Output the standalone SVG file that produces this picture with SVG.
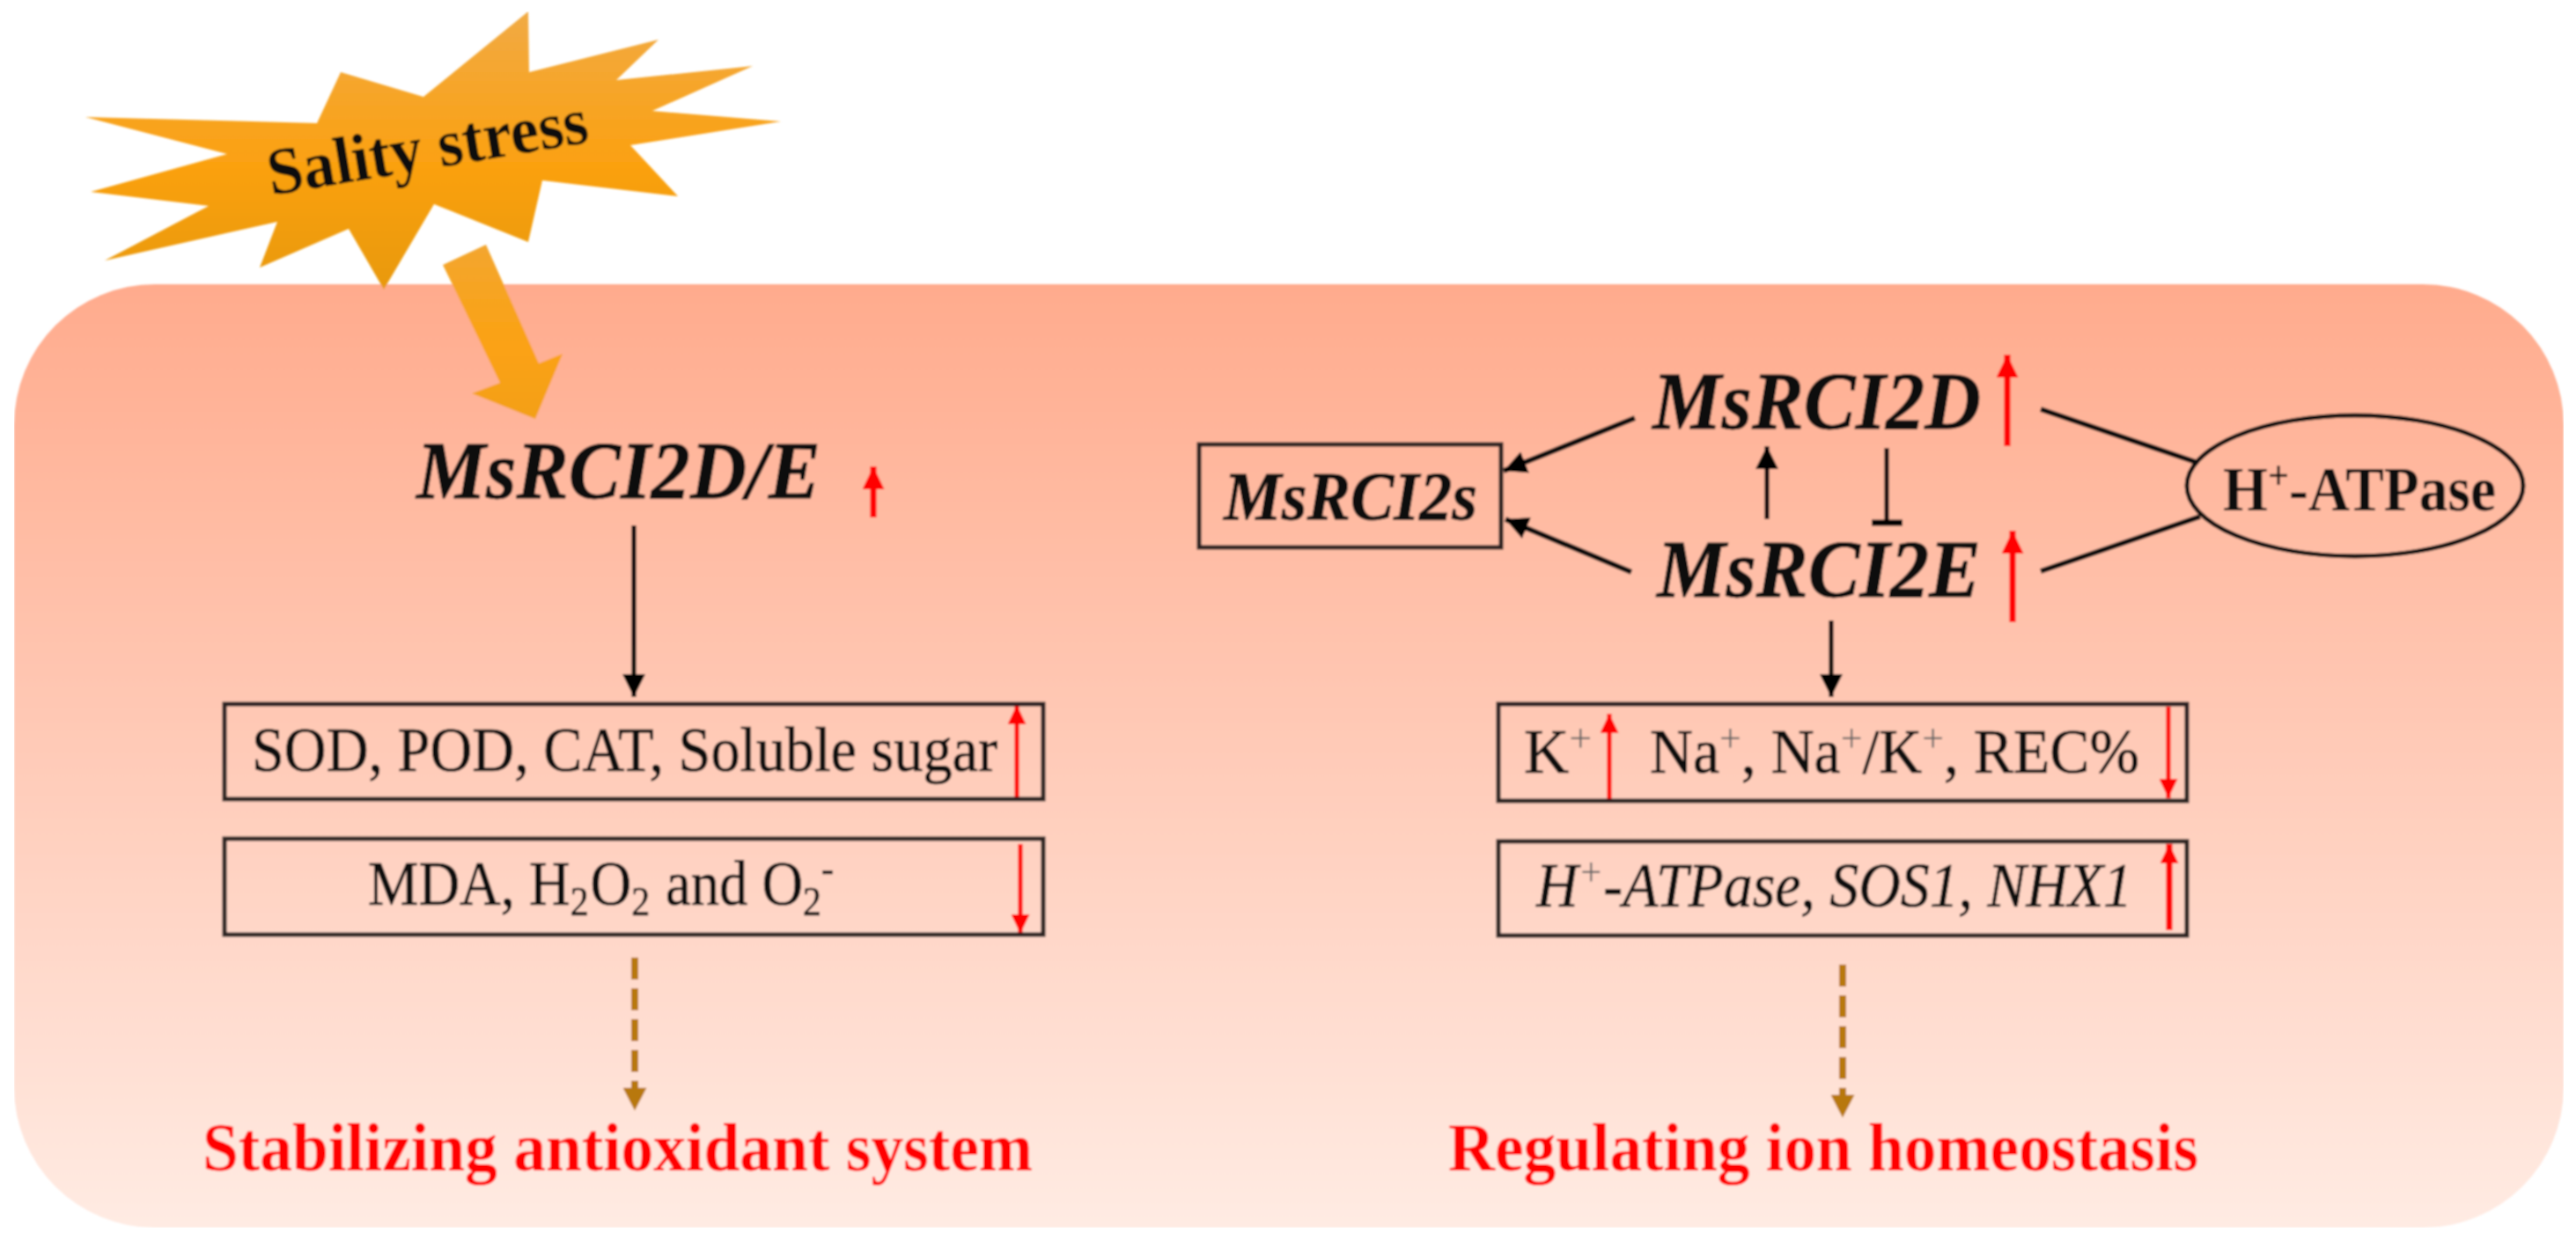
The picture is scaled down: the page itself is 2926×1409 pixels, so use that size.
<svg xmlns="http://www.w3.org/2000/svg" width="2926" height="1409" viewBox="0 0 2926 1409">
<style>
text{font-family:"Liberation Serif","Times New Roman",serif;fill:#0c0c0c}
.g{font-weight:bold;font-style:italic;font-size:94px;stroke:#0c0c0c;stroke-width:.8}
.t{font-size:71px;stroke:#0c0c0c;stroke-width:.7}
.r{font-weight:bold;font-size:78px;fill:#f00}
.s{font-size:46px}
.p{font-size:46px;fill:#666;stroke:none}
.box{fill:none;stroke:#2a2222;stroke-width:5}
.k{stroke:#000;stroke-width:5;fill:none}
.kl{stroke:#111;stroke-width:6;fill:none}
.a{stroke:#f00;stroke-width:7;fill:none}
.b{stroke:#f00;stroke-width:5;fill:none}
.d{stroke:#b8780f;stroke-width:8;fill:none;stroke-dasharray:25 10}
</style>
<defs>
<filter id="soft" x="0" y="0" width="1" height="1"><feGaussianBlur stdDeviation="0.8"/></filter>
<linearGradient id="bg" x1="0" y1="0" x2="0" y2="1"><stop offset="0" stop-color="#ffab8d"/><stop offset="1" stop-color="#ffebe3"/></linearGradient>
<linearGradient id="st" x1="0" y1="0" x2="0" y2="1"><stop offset="0" stop-color="#f1aa44"/><stop offset="0.55" stop-color="#fba111"/><stop offset="1" stop-color="#e8990f"/></linearGradient>
<linearGradient id="ar" x1="0" y1="0" x2="0" y2="1"><stop offset="0" stop-color="#f3a62f"/><stop offset="0.6" stop-color="#fba212"/><stop offset="1" stop-color="#f3a01a"/></linearGradient>
<marker id="mk" markerUnits="userSpaceOnUse" markerWidth="26" markerHeight="26" refX="26" refY="13" viewBox="0 0 26 26" orient="auto"><path d="M0 0L26 13L0 26z" fill="#000"/></marker>
<marker id="mr" markerUnits="userSpaceOnUse" markerWidth="26" markerHeight="25" refX="26" refY="12.5" viewBox="0 0 26 25" orient="auto"><path d="M0 0L26 12.500L0 25z" fill="#f00"/></marker>
<marker id="ms" markerUnits="userSpaceOnUse" markerWidth="22" markerHeight="21" refX="22" refY="10.500" viewBox="0 0 22 21" orient="auto"><path d="M0 0L22 10.500L0 21z" fill="#f00"/></marker>
<marker id="md" markerUnits="userSpaceOnUse" markerWidth="26" markerHeight="27" refX="26" refY="13.500" viewBox="0 0 26 27" orient="auto"><path d="M0 0L26 13.500L0 27z" fill="#b8780f"/></marker>
</defs>
<g filter="url(#soft)">
<rect id="panel" x="16" y="323" width="2896" height="1072" rx="160" ry="160" fill="url(#bg)"/>
<g id="stress">
<polygon fill="url(#st)" points="600,13 601,82 748,45 700,91 855,75 741,126 887,138 716,165 770,223 616,205 600,275 493,232 436,329 396,260 295,304 315,252 119,296 237,234 103,218 258,175 97,133 360,140 387,82 481,110"/>
<text transform="translate(308,222) rotate(-9.500)" font-weight="bold" font-size="76" textLength="368" lengthAdjust="spacingAndGlyphs">Sality stress</text>
</g>
<g id="connectors">
<polygon fill="url(#ar)" points="552,278 503,301 568,435 536,447 608,476 639,402 612,413"/>
<path class="k" d="M720 597V792" marker-end="url(#mk)"/>
<path class="a" d="M992 588V530" marker-end="url(#mr)"/>
<path class="kl" d="M1857 475L1708 535" marker-end="url(#mk)"/>
<path class="kl" d="M1853 650L1710 590" marker-end="url(#mk)"/>
<path class="k" d="M2007 590V507" marker-end="url(#mk)"/>
<path class="k" d="M2143 509V594"/><path d="M2126 594H2161" stroke="#000" stroke-width="7"/>
<path class="a" d="M2280 507V403" marker-end="url(#mr)"/>
<path class="a" d="M2286 707V603" marker-end="url(#mr)"/>
<path class="kl" d="M2318 465L2494 525"/>
<path class="kl" d="M2318 649L2499 587"/>
<path class="k" d="M2080 705V792" marker-end="url(#mk)"/>
<path class="b" d="M1155 908V801" marker-end="url(#ms)"/>
<path class="b" d="M1159 959V1061" marker-end="url(#ms)"/>
<path class="b" d="M1828 910V811" marker-end="url(#ms)"/>
<path class="b" d="M2463 803V907" marker-end="url(#ms)"/>
<path class="a" d="M2464 1057V959" marker-end="url(#ms)"/>
<path class="d" d="M721 1088V1262" marker-end="url(#md)"/>
<path class="d" d="M2093 1096V1270" marker-end="url(#md)"/>
</g>
<g id="msrci2de"><text class="g" x="473" y="566" textLength="459" lengthAdjust="spacingAndGlyphs">MsRCI2D/E</text></g>
<g id="msrci2d"><text class="g" x="1877" y="487" textLength="373" lengthAdjust="spacingAndGlyphs">MsRCI2D</text></g>
<g id="msrci2e"><text class="g" x="1882" y="678" textLength="368" lengthAdjust="spacingAndGlyphs">MsRCI2E</text></g>
<g id="msrci2s"><rect class="box" x="1362" y="505" width="343" height="117"/><text class="g" style="font-size:78px" x="1390" y="590" textLength="288" lengthAdjust="spacingAndGlyphs">MsRCI2s</text></g>
<g id="atpase"><ellipse cx="2675" cy="552" rx="191" ry="80" fill="none" stroke="#111" stroke-width="5"/><text x="2525" y="580" font-weight="bold" font-size="71" textLength="310" lengthAdjust="spacingAndGlyphs">H<tspan dy="-24" class="s">+</tspan><tspan dy="24">-ATPase</tspan></text></g>
<g id="box1"><rect class="box" x="255" y="800" width="930" height="108"/><text class="t" x="286" y="876" textLength="847" lengthAdjust="spacingAndGlyphs">SOD, POD, CAT, Soluble sugar</text></g>
<g id="box2"><rect class="box" x="255" y="953" width="930" height="109"/><text class="t" x="418" y="1028" textLength="529" lengthAdjust="spacingAndGlyphs">MDA, H<tspan dy="12" class="s">2</tspan><tspan dy="-12" dx="2">O</tspan><tspan dy="12" class="s">2</tspan><tspan dy="-12" dx="2"> and O</tspan><tspan dy="12" class="s">2</tspan><tspan dy="-38" class="s">-</tspan></text></g>
<g id="box3"><rect class="box" x="1702" y="800" width="782" height="110"/><text class="t" x="1731" y="878">K<tspan dy="-24" class="p">+</tspan></text><text class="t" x="1874" y="878" textLength="556" lengthAdjust="spacingAndGlyphs">Na<tspan dy="-24" class="p">+</tspan><tspan dy="24">, Na</tspan><tspan dy="-24" class="p">+</tspan><tspan dy="24">/K</tspan><tspan dy="-24" class="p">+</tspan><tspan dy="24">, REC%</tspan></text></g>
<g id="box4"><rect class="box" x="1702" y="956" width="782" height="107"/><text class="t" font-style="italic" x="1745" y="1030" textLength="677" lengthAdjust="spacingAndGlyphs">H<tspan dy="-24" class="p">+</tspan><tspan dy="24">-ATPase, SOS1, NHX1</tspan></text></g>
<g id="res1"><text class="r" x="230" y="1330" textLength="943" lengthAdjust="spacingAndGlyphs">Stabilizing antioxidant system</text></g>
<g id="res2"><text class="r" x="1645" y="1330" textLength="852" lengthAdjust="spacingAndGlyphs">Regulating ion homeostasis</text></g>
</g>
</svg>
